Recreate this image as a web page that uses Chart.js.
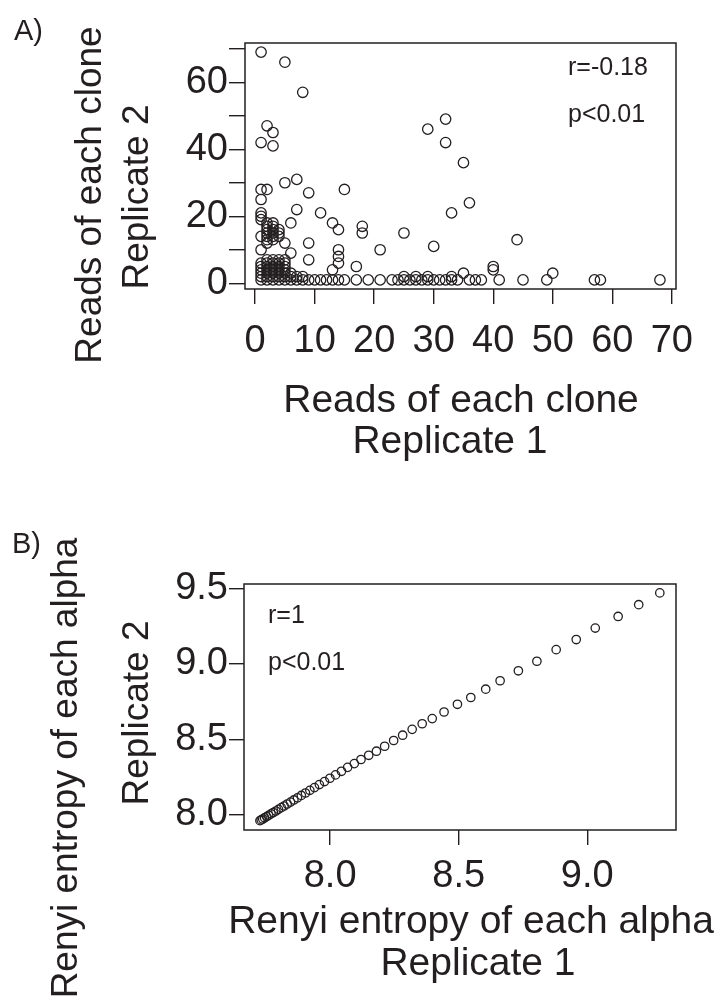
<!DOCTYPE html>
<html>
<head>
<meta charset="utf-8">
<script src="https://cdn.jsdelivr.net/npm/chart.js@4.4.1/dist/chart.umd.min.js"></script>
<style>
body { margin: 0; background: #fff; }
#wrap { position: relative; width: 719px; height: 1001px; }
canvas { position: absolute; left: 0; }
</style>
</head>
<body>
<div id="wrap">
<canvas id="chartA" width="719" height="500" style="top:0;width:719px;height:500px"></canvas>
<canvas id="chartB" width="719" height="501" style="top:500px;width:719px;height:501px"></canvas>
</div>
<script>
// A) reads of each clone, replicate 1 vs replicate 2
const cloneRep1 = [
    1, 5, 8, 2, 3, 1, 3,
    29, 32, 32, 35, 36, 33, 30, 25, 21, 44,
    18, 18, 15, 13, 14, 14, 14, 14, 13, 17,
    11, 9, 7, 5, 7, 6, 9, 9, 6, 5, 4, 4,
    1, 2, 1, 1, 1, 1, 1, 1, 2, 2,
    40, 40, 50, 33, 35, 25, 27, 29,
    2, 2, 2, 2, 2, 3, 3, 3, 3, 3, 4, 4, 3,
    1, 1, 1, 1, 1, 2, 2, 2, 2, 2, 2, 3, 3, 3, 3, 3, 4, 4, 4, 4, 5, 5, 5, 6, 6, 7, 8, 3, 4, 5, 5, 5,
    1, 2, 3, 4, 5, 6, 7, 8, 9, 10, 11, 12, 13, 14, 15, 17, 19, 21, 23, 24, 25, 26, 27, 28, 29,
    30, 31, 32, 33, 34, 36, 37, 38, 41, 45, 49, 57, 58, 68
];
const cloneRep2 = [
    69, 66, 57, 47, 45, 42, 41,
    46, 49, 42, 36, 24, 21, 11, 15, 10, 13,
    17, 15, 28, 18, 16, 10, 8, 6, 4, 5,
    21, 27, 31, 30, 22, 18, 12, 7, 9, 12, 14, 7,
    28, 28, 25, 21, 20, 19, 14, 10, 18, 12,
    5, 4, 3, 2, 3, 2, 2, 2,
    13, 14, 15, 16, 17, 13, 14, 15, 16, 17, 15, 16, 18,
    2, 3, 4, 5, 6, 2, 3, 4, 5, 6, 7, 2, 3, 4, 5, 6, 2, 3, 4, 5, 2, 3, 4, 2, 3, 2, 2, 7, 6, 5, 6, 7,
    1, 1, 1, 1, 1, 1, 1, 1, 1, 1, 1, 1, 1, 1, 1, 1, 1, 1, 1, 1, 1, 1, 1, 1, 1,
    1, 1, 1, 1, 1, 1, 1, 1, 1, 1, 1, 1, 1, 1
];
const cloneTicks = [0, 10, 20, 30, 40, 50, 60, 70];
const cloneLabelsY = [0, 20, 40, 60];

// B) Renyi entropy of each alpha, replicate 1 vs replicate 2
const entropyRep1 = [
    7.727, 7.732, 7.738, 7.745, 7.753, 7.761, 7.770, 7.779, 7.789, 7.799,
    7.810, 7.821, 7.833, 7.846, 7.859, 7.873, 7.888, 7.904, 7.921, 7.939,
    7.958, 7.978, 7.999, 8.021, 8.044, 8.068, 8.094, 8.120, 8.150, 8.180,
    8.212, 8.247, 8.282, 8.319, 8.358, 8.397, 8.443, 8.495, 8.547, 8.605,
    8.661, 8.732, 8.804, 8.879, 8.957, 9.031, 9.120, 9.200, 9.282
];
const entropyRep2 = [
    7.962, 7.967, 7.973, 7.981, 7.989, 7.997, 8.007, 8.016, 8.026, 8.037,
    8.048, 8.059, 8.072, 8.085, 8.099, 8.113, 8.129, 8.145, 8.163, 8.181,
    8.201, 8.221, 8.243, 8.265, 8.289, 8.315, 8.340, 8.367, 8.395, 8.422,
    8.455, 8.493, 8.528, 8.567, 8.604, 8.638, 8.682, 8.733, 8.778, 8.833,
    8.889, 8.955, 9.018, 9.095, 9.162, 9.238, 9.315, 9.393, 9.471
];
const entropyTicksX = [8.0, 8.5, 9.0];
const entropyTicksY = [8.0, 8.5, 9.0, 9.5];

const ink = '#231f20';
const fam = '"Liberation Sans", Arial, sans-serif';

// frame round the plot area plus the free texts
const framePlugin = {
    id: 'frame',
    afterDraw(chart, args, opts) {
        const ctx = chart.ctx;
        const a = chart.chartArea;
        ctx.save();
        ctx.strokeStyle = ink;
        ctx.lineWidth = 1.5;
        ctx.strokeRect(a.left, a.top, a.right - a.left, a.bottom - a.top);
        ctx.fillStyle = ink;
        ctx.textBaseline = 'alphabetic';
        (opts.texts || []).forEach(function(t) {
            ctx.font = t.size + 'px ' + fam;
            ctx.save();
            ctx.translate(t.x, t.y);
            if (t.rot) ctx.rotate(-Math.PI / 2);
            ctx.textAlign = t.align || 'center';
            ctx.fillText(t.text, 0, 0);
            ctx.restore();
        });
        ctx.restore();
    }
};

function axis(min, max, ticks, label, opts) {
    return {
        type: 'linear',
        min: min,
        max: max,
        afterBuildTicks: function(s) { s.ticks = ticks.map(v => ({ value: v })); },
        afterFit: function(s) {
            if (s.isHorizontal()) s.height = opts.size; else s.width = opts.size;
        },
        ticks: {
            autoSkip: false,
            maxRotation: 0,
            padding: opts.pad,
            color: ink,
            font: { family: fam, size: 38 },
            callback: label
        },
        grid: { drawOnChartArea: false, tickLength: opts.tick, color: ink, lineWidth: 1.4 },
        border: { display: false }
    };
}

function makeChart(id, xs, ys, radius, scales, padding, texts) {
    return new Chart(document.getElementById(id), {
        type: 'scatter',
        data: {
            datasets: [{
                data: xs.map((x, i) => ({ x: x, y: ys[i] })),
                pointStyle: 'circle',
                pointRadius: radius,
                pointBorderWidth: 1.3,
                pointBorderColor: ink,
                pointBackgroundColor: 'rgba(0,0,0,0)',
                clip: false
            }]
        },
        options: {
            responsive: false,
            animation: false,
            devicePixelRatio: 1,
            layout: { padding: padding },
            plugins: { legend: { display: false }, tooltip: { enabled: false }, frame: { texts: texts } },
            scales: scales
        },
        plugins: [framePlugin]
    });
}

makeChart('chartA', cloneRep1, cloneRep2, 5.2, {
    x: axis(-1.7, 70.7, cloneTicks, v => String(v), { size: 90, pad: 15, tick: 15 }),
    y: axis(-1.72, 71.72, cloneTicks, v => cloneLabelsY.includes(v) ? String(v) : '', { size: 245, pad: 1, tick: 16 })
}, { left: 0, right: 43, top: 43, bottom: 121 }, [
    { text: 'A)', x: 14, y: 40, size: 29, align: 'left' },
    { text: 'Reads of each clone', x: 101, y: 195, size: 37, rot: true },
    { text: 'Replicate 2', x: 148, y: 197, size: 37, rot: true },
    { text: 'Reads of each clone', x: 461, y: 412, size: 39 },
    { text: 'Replicate 1', x: 450, y: 453, size: 39 },
    { text: 'r=-0.18', x: 568, y: 75, size: 25, align: 'left' },
    { text: 'p<0.01', x: 568, y: 122, size: 25, align: 'left' }
]);

makeChart('chartB', entropyRep1, entropyRep2, 4.2, {
    x: axis(7.665, 9.345, entropyTicksX, v => v.toFixed(1), { size: 90, pad: 9, tick: 15 }),
    y: axis(7.90, 9.53, entropyTicksY, v => v.toFixed(1), { size: 244, pad: 1, tick: 15 })
}, { left: 0, right: 43, top: 84, bottom: 81 }, [
    { text: 'B)', x: 12, y: 53, size: 29, align: 'left' },
    { text: 'Renyi entropy of each alpha', x: 77, y: 268, size: 37, rot: true },
    { text: 'Replicate 2', x: 148, y: 213, size: 37, rot: true },
    { text: 'Renyi entropy of each alpha', x: 471, y: 433, size: 39 },
    { text: 'Replicate 1', x: 478, y: 475, size: 39 },
    { text: 'r=1', x: 268, y: 123, size: 25, align: 'left' },
    { text: 'p<0.01', x: 268, y: 170, size: 25, align: 'left' }
]);
</script>
</body>
</html>
